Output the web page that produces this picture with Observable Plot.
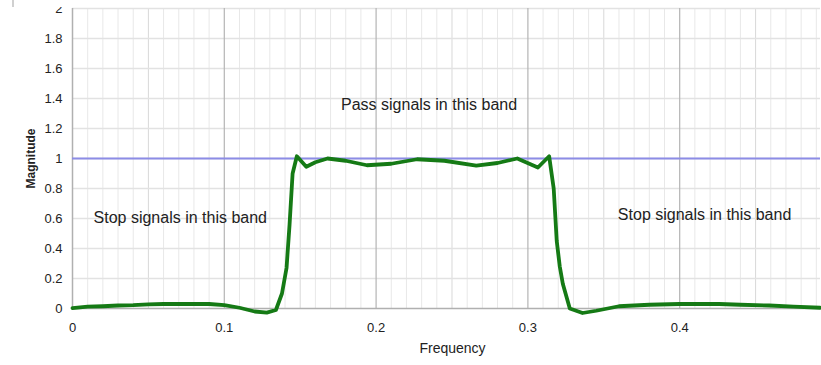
<!DOCTYPE html>
<html><head><meta charset="utf-8">
<script src="https://cdn.jsdelivr.net/npm/d3@7"></script>
<script src="https://cdn.jsdelivr.net/npm/@observablehq/plot@0.6"></script>
<style>
html,body{margin:0;padding:0;background:#fff;}
#wrap{position:relative;width:821px;height:365px;overflow:hidden;}
#clip{position:absolute;left:0;top:7px;width:821px;height:358px;overflow:hidden;}
#clip svg{position:absolute;left:0;top:-7px;}
#border{position:absolute;left:12px;top:0;width:2px;height:356px;background:#d0d0d0;}
</style>
</head><body>
<div id="wrap"><div id="border"></div><div id="clip"></div></div>
<script>
const freq = [0, 0.01, 0.02, 0.03, 0.04, 0.05, 0.06, 0.07, 0.08, 0.09, 0.1, 0.11, 0.12, 0.128, 0.134, 0.138, 0.141, 0.143, 0.145, 0.1478, 0.154, 0.16, 0.168, 0.18, 0.194, 0.21, 0.227, 0.245, 0.266, 0.28, 0.293, 0.3066, 0.314, 0.317, 0.319, 0.321, 0.323, 0.3276, 0.336, 0.345, 0.36, 0.38, 0.4, 0.426, 0.44, 0.459, 0.475, 0.4925];
const magnitude = [0.003, 0.012, 0.015, 0.02, 0.022, 0.028, 0.03, 0.03, 0.03, 0.03, 0.022, 0.005, -0.02, -0.027, -0.01, 0.1, 0.27, 0.56, 0.9, 1.015, 0.945, 0.975, 1.0, 0.985, 0.955, 0.965, 0.995, 0.985, 0.953, 0.97, 1.0, 0.94, 1.015, 0.8, 0.45, 0.28, 0.165, 0.0, -0.03, -0.015, 0.015, 0.025, 0.03, 0.03, 0.025, 0.02, 0.012, 0.005];
const referenceLevel = [1];
const xTicks = [0, 0.1, 0.2, 0.3, 0.4];
const yTicks = [0, 0.2, 0.4, 0.6, 0.8, 1, 1.2, 1.4, 1.6, 1.8, 2];
const xMinorGrid = [0.01,0.02,0.03,0.04,0.06,0.07,0.08,0.09,0.11,0.12,0.13,0.14,0.16,0.17,0.18,0.19,0.21,0.22,0.23,0.24,0.26,0.27,0.28,0.29,0.31,0.32,0.33,0.34,0.36,0.37,0.38,0.39,0.41,0.42,0.43,0.44,0.46,0.47,0.48,0.49];
const xMidGrid = [0.05, 0.15, 0.25, 0.35, 0.45];
const noteText = ["Pass signals in this band", "Stop signals in this band", "Stop signals in this band"];
const noteX = [0.2349, 0.071, 0.4164];
const noteY = [1.36, 0.607, 0.627];

const data = freq.map((f, i) => ({f, m: magnitude[i]}));
const notes = noteText.map((t, i) => ({t, x: noteX[i], y: noteY[i]}));
const fmt = d => String(+d.toFixed(2));

const chart = Plot.plot({
  width: 821,
  height: 365,
  marginTop: 8,
  marginBottom: 57,
  marginLeft: 72,
  marginRight: 1,
  style: {fontFamily: "Liberation Sans, Arial, sans-serif", fontSize: "13px", color: "#222", background: "#fff"},
  x: {domain: [0, 0.49276], ticks: xTicks, tickFormat: fmt, tickSize: 0, tickPadding: 14, label: "Frequency", labelAnchor: "center", labelOffset: 44, labelArrow: "none"},
  y: {domain: [0, 2], ticks: yTicks, tickFormat: fmt, tickSize: 0, tickPadding: 10, label: "Magnitude", labelAnchor: "center", labelOffset: 46, labelArrow: "none"},
  marks: [
    Plot.ruleX(xMinorGrid, {stroke: "#e8e8e8", strokeWidth: 1}),
    Plot.ruleX(xMidGrid, {stroke: "#d8d8d8", strokeWidth: 1}),
    Plot.ruleY(yTicks.slice(1), {stroke: "#e2e2e2", strokeWidth: 1.5}),
    Plot.ruleX(xTicks.slice(1), {stroke: "#b4b4b4", strokeWidth: 1.2}),
    Plot.ruleX([0], {stroke: "#b0b0b0", strokeWidth: 1.5}),
    Plot.ruleY([0], {stroke: "#b0b0b0", strokeWidth: 1.5}),
    Plot.ruleY(referenceLevel, {stroke: "#8c8ce6", strokeWidth: 2}),
    Plot.line(data, {x: "f", y: "m", stroke: "#157a15", strokeWidth: 3.8, curve: "linear", strokeLinejoin: "round"}),
    Plot.text(notes, {x: "x", y: "y", text: "t", fontSize: 16, fill: "#222"})
  ]
});
d3.select(chart).selectAll("[aria-label='y-axis label'] text, [aria-label='y-axis label']").style("font-weight", "bold").style("font-size", "12px");
d3.select(chart).selectAll("[aria-label='x-axis label'] text, [aria-label='x-axis label']").style("font-size", "14px").attr("dx", 6);
document.getElementById("clip").appendChild(chart);
</script>
</body></html>
